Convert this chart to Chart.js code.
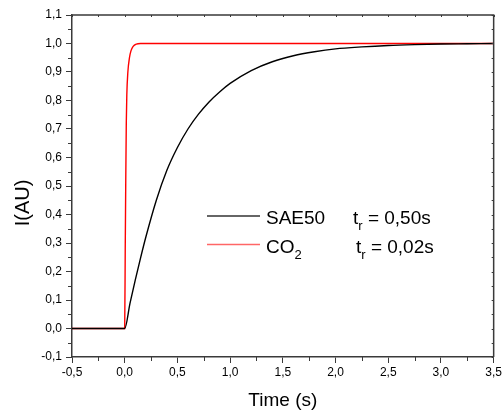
<!DOCTYPE html>
<html>
<head>
<meta charset="utf-8">
<script src="https://cdn.jsdelivr.net/npm/chart.js@4/dist/chart.umd.min.js"></script>
<style>
  html, body { margin: 0; padding: 0; background: #fff; }
  canvas { display: block; }
</style>
</head>
<body>
<canvas id="riseChart" width="504" height="412"></canvas>
<script>
// values
const timeSae = [-0.5, 0, 0.05, 0.1, 0.15, 0.2, 0.3, 0.4, 0.5, 0.6, 0.7, 0.8, 0.9, 1.0, 1.2, 1.4, 1.6, 1.8, 2.0, 2.25, 2.5, 2.75, 3.0, 3.25, 3.5];
const sae50 = [0, 0, 0.088, 0.17, 0.247, 0.32, 0.45, 0.555, 0.635, 0.70, 0.752, 0.795, 0.83, 0.86, 0.905, 0.936, 0.957, 0.971, 0.981, 0.988, 0.993, 0.996, 0.998, 0.999, 1.0];
const timeCo2 = [-0.5, 0, 0.005, 0.01, 0.015, 0.02, 0.03, 0.045, 0.06, 0.08, 0.11, 0.15, 3.5];
const co2 = [0, 0, 0.28, 0.52, 0.72, 0.82, 0.9, 0.95, 0.975, 0.99, 0.998, 1.0, 1.0];
const legendRows = [
  { name: "SAE50", sub: "", tr: "0,50s", color: "#000" },
  { name: "CO", sub: "2", tr: "0,02s", color: "#ff0000" }
];

const fmt = v => v.toFixed(1).replace(".", ",");
const toPoints = (xs, ys) => xs.map((x, i) => ({ x, y: ys[i] }));
const frameColor = "#3a3a3a";

// minor ticks, inward ticks on top/right, frame, y title and legend
const extras = {
  id: "extras",
  afterDraw(chart) {
    const { ctx, chartArea: a, scales: { x, y } } = chart;
    ctx.save();
    ctx.strokeStyle = frameColor;
    ctx.lineWidth = 1.5;
    ctx.beginPath();
    ctx.moveTo(a.left, a.top);
    ctx.lineTo(a.right, a.top);
    ctx.lineTo(a.right, a.bottom);
    ctx.stroke();

    ctx.lineWidth = 1;
    ctx.beginPath();
    for (let v = -0.5; v <= 3.5001; v += 0.25) {
      const px = Math.round(x.getPixelForValue(v)) + 0.5;
      const major = Math.abs(v * 2 - Math.round(v * 2)) < 1e-6;
      if (!major) { ctx.moveTo(px, a.bottom); ctx.lineTo(px, a.bottom + 4); }
      ctx.moveTo(px, a.top); ctx.lineTo(px, a.top + 2);
    }
    for (let v = -0.1; v <= 1.1001; v += 0.05) {
      const py = Math.round(y.getPixelForValue(v)) + 0.5;
      const major = Math.abs(v * 10 - Math.round(v * 10)) < 1e-6;
      if (!major) { ctx.moveTo(a.left, py); ctx.lineTo(a.left - 4, py); }
      ctx.moveTo(a.right, py); ctx.lineTo(a.right - 2, py);
    }
    ctx.stroke();

    ctx.fillStyle = "#000";
    ctx.font = "20px 'Liberation Sans', Arial, sans-serif";
    ctx.textAlign = "center";
    ctx.textBaseline = "middle";
    ctx.translate(23, 203);
    ctx.rotate(-Math.PI / 2);
    ctx.fillText("I(AU)", 0, 0);
    ctx.restore();

    ctx.save();
    ctx.textBaseline = "alphabetic";
    ctx.textAlign = "left";
    legendRows.forEach((r, i) => {
      const ly = 216 + i * 28.5;
      const base = ly + 8;
      ctx.strokeStyle = r.color;
      ctx.globalAlpha = i === 1 ? 0.6 : 0.8;
      ctx.lineWidth = 1.5;
      ctx.beginPath();
      ctx.moveTo(207, ly);
      ctx.lineTo(260, ly);
      ctx.stroke();
      ctx.globalAlpha = 1;
      ctx.fillStyle = "#000";
      ctx.font = "19px 'Liberation Sans', Arial, sans-serif";
      ctx.fillText(r.name, 266, base);
      if (r.sub) {
        const w = ctx.measureText(r.name).width;
        ctx.font = "13px 'Liberation Sans', Arial, sans-serif";
        ctx.fillText(r.sub, 266 + w, base + 6);
      }
      const tx = i === 0 ? 353 : 356;
      ctx.font = "19px 'Liberation Sans', Arial, sans-serif";
      ctx.fillText("t", tx, base);
      const tw = ctx.measureText("t").width;
      ctx.font = "13px 'Liberation Sans', Arial, sans-serif";
      ctx.fillText("r", tx + tw, base + 6);
      const rw = ctx.measureText("r").width;
      ctx.font = "19px 'Liberation Sans', Arial, sans-serif";
      ctx.fillText(" = " + r.tr, tx + tw + rw, base);
    });
    ctx.restore();
  }
};

new Chart(document.getElementById("riseChart"), {
  type: "line",
  data: {
    datasets: [
      {
        label: "SAE50",
        data: toPoints(timeSae, sae50),
        borderColor: "#000",
        borderWidth: 1.4,
        pointRadius: 0,
        cubicInterpolationMode: "monotone"
      },
      {
        label: "CO2",
        data: toPoints(timeCo2, co2),
        borderColor: "#ff0000",
        borderWidth: 1.4,
        pointRadius: 0,
        cubicInterpolationMode: "monotone"
      }
    ]
  },
  options: {
    responsive: false,
    animation: false,
    devicePixelRatio: 1,
    layout: { padding: { top: 15, right: 9, left: 0, bottom: 0 } },
    plugins: { legend: { display: false }, tooltip: { enabled: false } },
    scales: {
      x: {
        type: "linear",
        min: -0.5,
        max: 3.5,
        afterFit: s => { s.height = 55; },
        border: { color: frameColor, width: 1.5 },
        grid: { drawOnChartArea: false, tickLength: 6, color: frameColor },
        ticks: {
          stepSize: 0.5,
          padding: 2,
          maxRotation: 0,
          color: "#000",
          font: { family: "'Liberation Sans', Arial, sans-serif", size: 12 },
          callback: v => fmt(v)
        },
        title: {
          display: true,
          text: "Time (s)",
          color: "#000",
          padding: { top: 0, bottom: 0 },
          font: { family: "'Liberation Sans', Arial, sans-serif", size: 19 }
        }
      },
      y: {
        min: -0.1,
        max: 1.1,
        afterFit: s => { s.width = 72; },
        border: { color: frameColor, width: 1.5 },
        grid: { drawOnChartArea: false, tickLength: 6, color: frameColor },
        ticks: {
          stepSize: 0.1,
          padding: 4,
          color: "#000",
          font: { family: "'Liberation Sans', Arial, sans-serif", size: 12 },
          callback: v => fmt(v)
        }
      }
    }
  },
  plugins: [extras]
});
</script>
</body>
</html>
